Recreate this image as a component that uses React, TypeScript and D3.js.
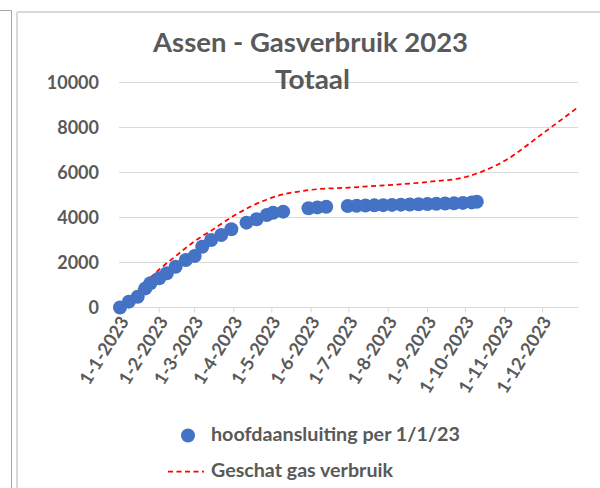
import React from "react";
import * as d3 from "d3";

const W = 600;
const H = 488;

const titleLines = ["Assen - Gasverbruik 2023", "Totaal"];
const legendLabels = ["hoofdaansluiting per 1/1/23", "Geschat gas verbruik"];

const yTicks = [0, 2000, 4000, 6000, 8000, 10000];
const xTickDates = [
  "2023-01-01", "2023-02-01", "2023-03-01", "2023-04-01", "2023-05-01", "2023-06-01",
  "2023-07-01", "2023-08-01", "2023-09-01", "2023-10-01", "2023-11-01", "2023-12-01",
];
const xTickLabels = [
  "1-1-2023", "1-2-2023", "1-3-2023", "1-4-2023", "1-5-2023", "1-6-2023",
  "1-7-2023", "1-8-2023", "1-9-2023", "1-10-2023", "1-11-2023", "1-12-2023",
];

const dotDates = [
  "2023-01-01", "2023-01-08", "2023-01-15", "2023-01-21", "2023-01-25",
  "2023-02-01", "2023-02-07", "2023-02-14", "2023-02-22",
  "2023-03-01", "2023-03-07", "2023-03-14", "2023-03-22", "2023-03-30",
  "2023-04-11", "2023-04-19", "2023-04-27",
  "2023-05-02", "2023-05-10", "2023-05-30",
  "2023-06-06", "2023-06-13", "2023-06-30",
  "2023-07-07", "2023-07-14", "2023-07-21", "2023-07-28",
  "2023-08-04", "2023-08-11", "2023-08-18", "2023-08-25",
  "2023-09-01", "2023-09-08", "2023-09-15", "2023-09-22", "2023-09-29",
  "2023-10-06", "2023-10-10",
];
const dotValues = [
  0, 260, 480, 850, 1080,
  1300, 1520, 1810, 2110,
  2290, 2700, 3000, 3220, 3480,
  3770, 3920, 4110,
  4210, 4260, 4410,
  4450, 4480, 4510,
  4520, 4530, 4540, 4550,
  4560, 4570, 4580, 4590,
  4600, 4610, 4620, 4630, 4650,
  4670, 4700,
];

const estDates = [
  "2023-01-01", "2023-01-24", "2023-02-01", "2023-02-15", "2023-03-01", "2023-03-15",
  "2023-04-01", "2023-05-01", "2023-06-01", "2023-07-01", "2023-08-01", "2023-09-01",
  "2023-10-01", "2023-11-01", "2023-12-01", "2023-12-29",
];
const estValues = [
  0, 1270, 1690, 2330, 2950, 3450,
  4080, 4880, 5230, 5330, 5440, 5580,
  5800, 6520, 7730, 8900,
];

const parse = d3.timeParse("%Y-%m-%d");
const TEXT = "#595959";
const GRID = "#d9d9d9";
const BLUE = "#4472C4";
const RED = "#FF0000";
const FONT = "Lato, 'Open Sans', sans-serif";

export default function App() {
  const x = d3
    .scaleTime()
    .domain([parse("2023-01-01") as Date, parse("2023-12-29") as Date])
    .range([120, 578]);
  const y = d3.scaleLinear().domain([0, 10000]).range([307.5, 82.5]);

  const dots = dotDates.map((d, i) => ({ date: parse(d) as Date, value: dotValues[i] }));
  const est = estDates.map((d, i) => ({ date: parse(d) as Date, value: estValues[i] }));

  const line = d3
    .line<{ date: Date; value: number }>()
    .x((d) => x(d.date))
    .y((d) => y(d.value))
    .curve(d3.curveMonotoneX);

  const gridX0 = 119;
  const gridX1 = 578;

  return (
    <svg
      width={W}
      height={H}
      style={{ position: "absolute", left: 0, top: 0, background: "#fff" }}
      fontFamily={FONT}
    >
      {/* outer frame lines */}
      <line x1={0} x2={11.5} y1={10.5} y2={10.5} stroke="#a6a6a6" strokeWidth={1} />
      <line x1={11.5} x2={11.5} y1={10.5} y2={H} stroke="#a6a6a6" strokeWidth={1} />
      <line x1={17} x2={W} y1={12} y2={12} stroke={GRID} strokeWidth={2} />
      <line x1={17} x2={17} y1={12} y2={H} stroke={GRID} strokeWidth={2} />

      {/* gridlines */}
      {yTicks.map((t) => (
        <line key={"g" + t} x1={gridX0} x2={gridX1} y1={y(t)} y2={y(t)} stroke={GRID} strokeWidth={1} />
      ))}
      {/* y labels */}
      {yTicks.map((t) => (
        <text
          key={"yl" + t}
          x={99}
          y={y(t)}
          dy="0.36em"
          textAnchor="end"
          fontSize={18}
          fontWeight={700}
          fill={TEXT}
        >
          {t}
        </text>
      ))}

      {/* x ticks */}
      {xTickDates.map((d) => {
        const xx = x(parse(d) as Date);
        return <line key={"xt" + d} x1={xx} x2={xx} y1={y(0)} y2={y(0) + 5} stroke={GRID} strokeWidth={1} />;
      })}
      {xTickDates.map((d, i) => {
        const xx = x(parse(d) as Date);
        return (
          <text
            key={"xl" + d}
            transform={`translate(${xx + 4},${318}) rotate(-58)`}
            textAnchor="end"
            dy="0.36em"
            fontSize={18}
            fontWeight={700}
            fill={TEXT}
          >
            {xTickLabels[i]}
          </text>
        );
      })}

      {/* estimated line */}
      <path
        d={line(est) || ""}
        fill="none"
        stroke={RED}
        strokeWidth={1.75}
        strokeDasharray="5,3.5"
      />

      {/* dots */}
      {dots.map((d, i) => (
        <circle key={"d" + i} cx={x(d.date)} cy={y(d.value)} r={7} fill={BLUE} />
      ))}

      {/* title */}
      <text
        x={310.5}
        y={52}
        textAnchor="middle"
        fontSize={26}
        fontWeight={700}
        fill={TEXT}
        textLength={315}
        lengthAdjust="spacingAndGlyphs"
      >
        {titleLines[0]}
      </text>
      <text
        x={312.5}
        y={89}
        textAnchor="middle"
        fontSize={26}
        fontWeight={700}
        fill={TEXT}
        textLength={75}
        lengthAdjust="spacingAndGlyphs"
      >
        {titleLines[1]}
      </text>

      {/* legend */}
      <circle cx={188} cy={435.5} r={7} fill={BLUE} />
      <text
        x={211}
        y={441}
        fontSize={18}
        fontWeight={700}
        fill={TEXT}
        textLength={249}
        lengthAdjust="spacingAndGlyphs"
      >
        {legendLabels[0]}
      </text>
      <line x1={168} x2={204} y1={471.5} y2={471.5} stroke={RED} strokeWidth={1.75} strokeDasharray="5,3.5" />
      <text
        x={211}
        y={477}
        fontSize={18}
        fontWeight={700}
        fill={TEXT}
        textLength={182}
        lengthAdjust="spacingAndGlyphs"
      >
        {legendLabels[1]}
      </text>
    </svg>
  );
}
